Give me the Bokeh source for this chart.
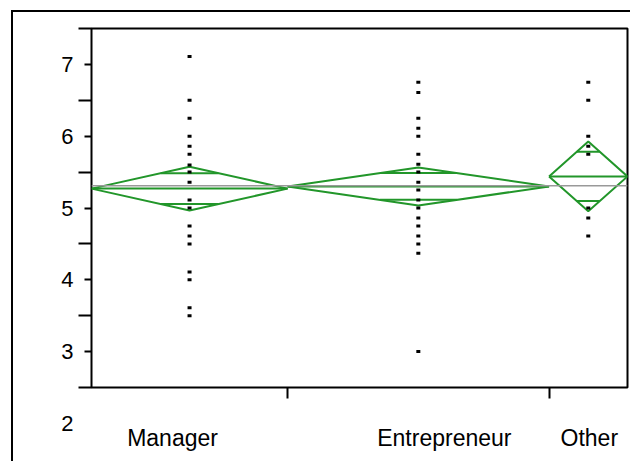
import math
from bokeh.plotting import figure
from bokeh.models import (Range1d, FixedTicker, Span, Label, ColumnDataSource)
from bokeh.embed import file_html
from bokeh.resources import INLINE

# ---------------- data ----------------
categories = ["Manager", "Entrepreneur", "Other"]
counts = [30, 40, 12]
group_means = [5.27, 5.30, 5.44]
ci_half = [0.305, 0.264, 0.486]
grand_mean = 5.31

manager_vals = [7.11, 6.5, 6.25, 6.0, 5.86, 5.75, 5.6, 5.5, 5.36, 5.11, 5.0,
                4.75, 4.61, 4.5, 4.11, 4.0, 3.61, 3.5]
entrepreneur_vals = [6.75, 6.61, 6.25, 6.11, 6.0, 5.75, 5.61, 5.5, 5.36, 5.25,
                     5.11, 5.0, 4.86, 4.75, 4.61, 4.5, 4.37, 3.0]
other_vals = [6.75, 6.5, 6.0, 5.86, 5.75, 5.0, 4.86, 4.61]
group_values = [manager_vals, entrepreneur_vals, other_vals]

y_ticks = [3, 4, 5, 6, 7]
y_minor = [2.5, 3.5, 4.5, 5.5, 6.5, 7.5]
extra_y_label = 2

# ---------------- layout constants ----------------
W, H = 630, 461
BL, BR, BT, BB = 91, 3, 28, 74
GREEN = "#22962a"
FONT = "Liberation Sans"
label_shift_px = [-17, 26, 1]

total = sum(counts)
bounds = [0]
for c in counts:
    bounds.append(bounds[-1] + c)
centers = [(bounds[i] + bounds[i + 1]) / 2 for i in range(len(counts))]
px_per_unit = (W - BL - BR) / total
label_pos = [centers[i] + label_shift_px[i] / px_per_unit for i in range(len(counts))]

p = figure(width=W, height=H, output_backend="svg", toolbar_location=None,
           x_range=Range1d(0, total), y_range=Range1d(y_minor[0], y_minor[-1]),
           min_border_left=BL, min_border_right=BR, min_border_top=BT,
           min_border_bottom=BB, background_fill_color="white",
           border_fill_color=None)
# outer frame (left and top edges) drawn behind the transparent canvas border
p.styles = {
    "background-color": "white",
    "background-image": "linear-gradient(#000, #000), linear-gradient(#000, #000)",
    "background-size": "2px 100%, 100% 2px",
    "background-position": "11px 10px, 11px 10px",
    "background-repeat": "no-repeat",
}
p.xgrid.visible = False
p.ygrid.visible = False
p.outline_line_color = "black"
p.outline_line_width = 2

# y axis
ya = p.yaxis[0]
ya.ticker = FixedTicker(ticks=y_ticks, minor_ticks=y_minor)
ya.axis_line_color = None
ya.major_tick_in = 0
ya.major_tick_out = 7
ya.minor_tick_in = 0
ya.minor_tick_out = 13
ya.major_tick_line_width = 2
ya.minor_tick_line_width = 2
ya.major_tick_line_color = "black"
ya.minor_tick_line_color = "black"
ya.major_label_standoff = 5
ya.major_label_text_font = FONT
ya.major_label_text_font_size = "22px"
ya.major_label_text_color = "black"

# x axis
xa = p.xaxis[0]
xa.ticker = FixedTicker(ticks=label_pos, minor_ticks=bounds[1:-1])
xa.major_label_overrides = {lp: categories[i] for i, lp in enumerate(label_pos)}
xa.axis_line_color = None
xa.major_tick_in = 0
xa.major_tick_out = 0
xa.minor_tick_in = 0
xa.minor_tick_out = 11
xa.minor_tick_line_width = 2
xa.minor_tick_line_color = "black"
xa.major_label_standoff = 26
xa.major_label_text_font = FONT
xa.major_label_text_font_size = "23px"
xa.major_label_text_color = "black"

# grand mean line
p.add_layout(Span(location=grand_mean, dimension="width", line_color="#999999",
                  line_width=1.5))

# diamonds
dx, dy = [], []
mx, my = [], []
for i in range(len(counts)):
    l, r, c = bounds[i], bounds[i + 1], centers[i]
    m, h = group_means[i], ci_half[i]
    dx.append([l, c, r, c, l])
    dy.append([m, m + h, m, m - h, m])
    mx.append([l, r]); my.append([m, m])
    d = h / math.sqrt(2)
    frac = 1 - d / h
    hw = (r - l) / 2 * frac
    mx.append([c - hw, c + hw]); my.append([m + d, m + d])
    mx.append([c - hw, c + hw]); my.append([m - d, m - d])
p.multi_line(xs=dx, ys=dy, line_color=GREEN, line_width=2)
p.multi_line(xs=mx, ys=my, line_color=GREEN, line_width=2)

# points
px, py = [], []
for i, vals in enumerate(group_values):
    for v in vals:
        px.append(centers[i]); py.append(v)
src = ColumnDataSource(dict(x=px, y=py))
p.rect(x="x", y="y", width=4, height=3, width_units="screen",
       height_units="screen", source=src, fill_color="black", line_color=None)

# label "2" below the frame (side panel so it is not clipped)
p.add_layout(Label(x=73, y=extra_y_label, x_units="canvas", y_units="data",
                   text=str(extra_y_label), text_align="right",
                   text_baseline="middle", text_font=FONT,
                   text_font_size="22px", text_color="black"), "left")

open("out.html", "w").write(file_html(p, INLINE))
